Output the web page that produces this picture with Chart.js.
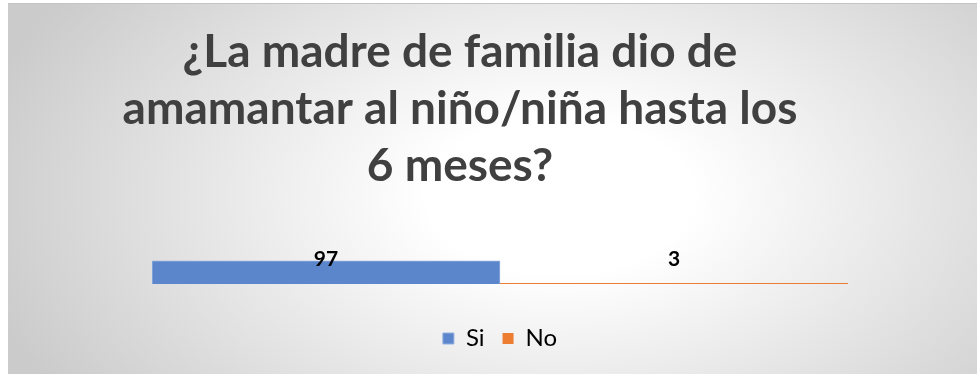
<!DOCTYPE html>
<html>
<head>
<meta charset="utf-8">
<script src="https://cdn.jsdelivr.net/npm/chart.js@4/dist/chart.umd.min.js"></script>
<style>
  html, body { margin: 0; padding: 0; background: #fff; }
  #wrap {
    position: absolute; left: 8px; top: 3px; width: 969px; height: 371px;
    background: radial-gradient(ellipse 62% 95% at 57% 52%, #ffffff 0%, #ffffff 22%, #cbcbcb 100%);
    border-top: 1px solid #c4c4c4;
    box-sizing: border-box;
  }
</style>
</head>
<body>
<div id="wrap"><canvas id="lactChart" width="969" height="370"></canvas></div>
<script>
const titleLines = ['¿La madre de familia dio de', 'amamantar al niño/niña hasta los', '6 meses?'];
const categories = [''];
const seriesNames = ['Si', 'No'];
const siValues = [97];
const noValues = [3];
const seriesColors = ['#5b86cc', '#ed7d31'];

// value labels sit just above the plot area, centred on each bar
const valueLabels = {
  id: 'valueLabels',
  afterDatasetsDraw(chart) {
    const ctx = chart.ctx;
    ctx.save();
    ctx.font = 'bold 21px Lato';
    ctx.fillStyle = '#000';
    ctx.textAlign = 'center';
    ctx.textBaseline = 'middle';
    chart.data.datasets.forEach((ds, i) => {
      chart.getDatasetMeta(i).data.forEach((bar, j) => {
        ctx.fillText(ds.data[j], bar.x, chart.chartArea.top - 1);
      });
    });
    ctx.restore();
  }
};

const ctx = document.getElementById('lactChart');
new Chart(ctx, {
  type: 'bar',
  data: {
    labels: categories,
    datasets: [
      {
        label: seriesNames[0],
        data: siValues,
        backgroundColor: seriesColors[0],
        borderColor: '#93aedf',
        borderWidth: 1
      },
      {
        label: seriesNames[1],
        data: noValues,
        backgroundColor: seriesColors[1],
        borderWidth: 0
      }
    ]
  },
  options: {
    responsive: false,
    animation: false,
    datasets: { bar: { categoryPercentage: 1, barPercentage: 1 } },
    layout: { padding: { left: 0, right: 65, top: 0, bottom: 13.5 } },
    scales: {
      x: {
        grid: { display: false },
        border: { display: false },
        ticks: { display: false },
        afterFit: (scale) => { scale.height = 24.5; }
      },
      y: {
        min: 0,
        max: 100,
        grid: { display: false },
        border: { display: false },
        ticks: { display: false },
        afterFit: (scale) => { scale.width = 144; }
      },
      yRight: {
        position: 'right',
        min: 0,
        max: 100,
        grid: { display: false },
        border: { display: false },
        ticks: { display: false },
        afterFit: (scale) => { scale.width = 64; }
      }
    },
    plugins: {
      title: {
        display: true,
        text: titleLines,
        color: '#404040',
        font: { family: 'Lato', size: 46, weight: 'bold', lineHeight: 1.24 },
        padding: { top: 20, bottom: 65 }
      },
      legend: {
        position: 'bottom',
        fullSize: false,
        labels: {
          color: '#000',
          font: { family: 'Lato', size: 24 },
          boxWidth: 11,
          boxHeight: 11,
          padding: 18
        }
      },
      tooltip: { enabled: false }
    }
  },
  plugins: [valueLabels]
});
</script>
</body>
</html>
